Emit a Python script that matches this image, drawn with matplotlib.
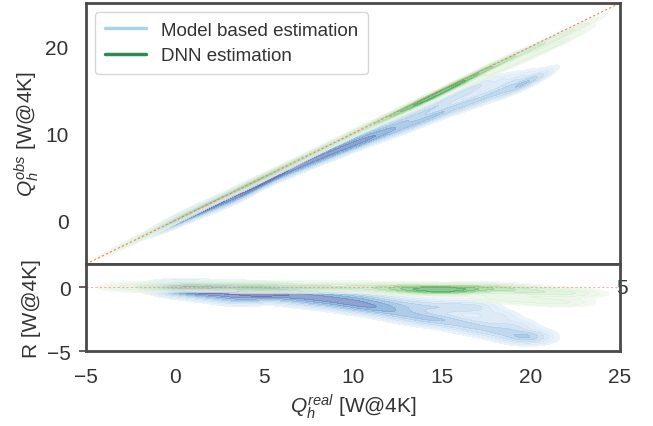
import numpy as np
import matplotlib
matplotlib.use("Agg")
import matplotlib.pyplot as plt
import seaborn as sns
from matplotlib.colors import LinearSegmentedColormap

# ridge points: Q_real, residual R = Q_obs - Q_real, weight
blue_x = [-1, 0, 1, 2, 3, 4, 5, 6, 7, 8, 9, 10, 11, 12, 13, 14, 15, 16, 17, 18, 19, 20,
          0.5, 1.5, 2.5, 3.5, 4.5, 5.5, 6.5, 7.5, 8.5, 9.5, 10.5, 11.5, 12.5, 13.5, 14.5,
          15.5, 16.5, 17.5, 18.5, 19.5, 20.2]
blue_r = [0, -0.1, -0.1, -0.2, -0.2, -0.2, -0.3, -0.4, -0.5, -0.6, -0.7, -0.9, -1.0, -1.2,
          -1.4, -1.5, -1.6, -1.6, -1.6, -2.3, -3.0, -3.7,
          -0.2, -0.4, -0.6, -0.8, -0.7, -0.6, -0.8, -1.0, -1.1, -1.3, -1.5, -1.7, -2.0,
          -2.3, -2.5, -2.7, -3.0, -3.3, -3.6, -3.9, -4.0]
blue_w = [0.3, 1.0, 1.2, 1.0, 1.0, 1.0, 1.0, 0.9, 0.8, 0.8, 0.8, 0.8, 0.7, 0.6, 0.6, 0.55,
          0.55, 0.55, 0.55, 0.55, 0.55, 0.35,
          1.0, 1.0, 1.0, 1.2, 1.2, 1.0, 0.9, 0.9, 1.0, 1.1, 1.2, 1.2, 1.0, 0.9, 0.9, 0.8,
          0.8, 0.7, 0.7, 0.8, 0.4]

green_x = [-3, -2, -1, 0, 1, 2, 3, 4, 5, 6, 7, 8, 9, 10, 11, 12, 13, 14, 15, 16, 17, 18,
           19, 20, 21, 22, 23, 17.5, 18.5, 19.5, 20.5, 21.5, 22.5]
green_r = [0, 0, 0, 0, 0.05, 0.05, 0.05, 0, 0, 0, 0, 0, 0, 0, 0, -0.1, -0.1, -0.2, -0.2,
           -0.2, -0.1, -0.1, -0.2, -0.3, -0.4, -0.5, -0.5, -0.8, -0.9, -1.0, -1.1, -1.2, -1.2]
green_w = [0.3, 0.35, 0.4, 0.5, 0.55, 0.55, 0.6, 0.7, 0.7, 0.6, 0.55, 0.55, 0.5, 0.5, 0.6,
           0.8, 1.2, 1.6, 1.8, 1.5, 1.0, 0.8, 0.7, 0.6, 0.5, 0.4, 0.3, 0.3, 0.3, 0.3, 0.3,
           0.3, 0.2]


def density(xs, rs, ws, gx, gr, sx, sr):
    # gaussian kernel sum of the read points, evaluated in (Q_real, R) space
    d = np.zeros_like(gx)
    for x0, r0, w0 in zip(xs, rs, ws):
        d += w0 * np.exp(-0.5 * (((gx - x0) / sx) ** 2 + ((gr - r0) / sr) ** 2))
    return d / d.max()


sns.set_style("white")
plt.rcParams["font.family"] = ["Liberation Sans", "DejaVu Sans"]
plt.rcParams["mathtext.fontset"] = "custom"
plt.rcParams["mathtext.it"] = "Liberation Sans:italic"
plt.rcParams["mathtext.rm"] = "Liberation Sans"

bcmap = LinearSegmentedColormap.from_list(
    "b", ["#e8f1fa", "#c9def1", "#9cc3e4", "#6c9fd0", "#6a6fb4", "#6a5fa8"])
gcmap = LinearSegmentedColormap.from_list(
    "g", ["#eef7ea", "#cdeac6", "#8fd08a", "#4caf5a", "#2a9a48"])
lv = [0.03, 0.07, 0.13, 0.2, 0.3, 0.4, 0.52, 0.65, 0.8, 1.01]

fig = plt.figure(figsize=(6.53, 4.27), dpi=100)
ax1 = fig.add_axes([0.1317, 0.3794, 0.8178, 0.6112])
ax2 = fig.add_axes([0.1317, 0.1756, 0.8178, 0.2038], sharex=ax1)

gx1, gy1 = np.meshgrid(np.linspace(-5, 25, 400), np.linspace(-5, 25, 400))
gx2, gy2 = np.meshgrid(np.linspace(-5, 25, 400), np.linspace(-5, 1.8, 200))

for xs, rs, ws, cm, sx, sr, a in [(blue_x, blue_r, blue_w, bcmap, 0.75, 0.32, 0.75),
                                  (green_x, green_r, green_w, gcmap, 0.9, 0.22, 0.6)]:
    d1 = density(xs, rs, ws, gx1, gy1 - gx1, sx, sr)
    d2 = density(xs, rs, ws, gx2, gy2, sx, sr)
    ax1.contourf(gx1, gy1, d1, levels=lv, cmap=cm, alpha=a)
    ax2.contourf(gx2, gy2, d2, levels=lv, cmap=cm, alpha=a)

ax1.plot([-5, 25], [-5, 25], color="#f08070", lw=0.8, ls=(0, (2, 2)))
ax2.plot([-5, 25], [0, 0], color="#f08070", lw=0.8, ls=(0, (2, 2)), alpha=0.6)

ax1.plot([], [], color="#a6d4e8", lw=2.5, label="Model based estimation")
ax1.plot([], [], color="#2e8b57", lw=2.5, label="DNN estimation")
leg = ax1.legend(loc="upper left", fontsize=13.5, frameon=True, borderpad=0.5,
                 handlelength=2.2, labelspacing=0.45, handletextpad=0.8)
for t in leg.get_texts():
    t.set_color("#333333")

ax1.set_xlim(-5, 25)
ax1.set_ylim(-5, 25)
ax2.set_ylim(-5, 1.8)
ax1.set_yticks([0, 10, 20])
ax2.set_yticks([-5, 0])
ax2.set_xticks([-5, 0, 5, 10, 15, 20, 25])
ax1.tick_params(labelbottom=False, bottom=False, left=False)
ax1.tick_params(axis="y", labelsize=15, colors="#333333", pad=9)
ax2.tick_params(axis="both", labelsize=15, colors="#333333")
ax2.tick_params(axis="y", left=True, length=5, width=1.2, color="#444444", pad=6)
ax2.tick_params(axis="x", bottom=False, pad=8)

ax1.set_ylabel(r"$Q_h^{obs}$ [W@4K]", fontsize=15, color="#333333")
ax2.set_ylabel("R [W@4K]", fontsize=15, color="#333333")
ax2.set_xlabel(r"$Q_h^{real}$ [W@4K]", fontsize=15, color="#333333", labelpad=4)
ax1.yaxis.set_label_coords(-0.085, 0.5)
ax2.yaxis.set_label_coords(-0.085, 0.5)

for ax in (ax1, ax2):
    for s in ax.spines.values():
        s.set_color("#4a4a4a")
        s.set_linewidth(2)

ax2.text(0.993, 0.0, "5", transform=ax2.get_yaxis_transform(), fontsize=15,
         color="#333333", va="center", ha="left", zorder=2)

fig.savefig("out.png", dpi=100)
